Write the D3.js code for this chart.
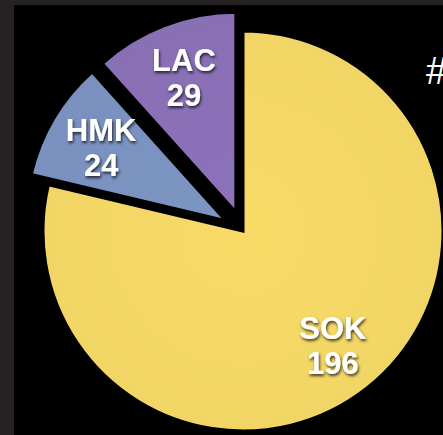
<!DOCTYPE html>
<html>
<head>
<meta charset="utf-8">
<script src="https://cdn.jsdelivr.net/npm/d3@7"></script>
<style>
  html, body { margin: 0; padding: 0; background: #262223; }
  svg { display: block; }
</style>
</head>
<body>
<svg id="chart"></svg>
<script>
// data
const labels = ["SOK", "HMK", "LAC"];
const values = [196, 24, 29];
const exploded = [false, true, true];
const colors = ["#f5d866", "#7b93c1", "#8a71b7"];

const width = 443, height = 435;
const cx = 243, cy = 231;
const radius = 200;
const explode = 20;
const labelR = 145;

const svg = d3.select("#chart")
    .attr("width", width)
    .attr("height", height);

// black panel inside the grey frame
svg.append("rect")
    .attr("x", 14).attr("y", 5)
    .attr("width", width - 14).attr("height", height - 5)
    .attr("fill", "#000");

const defs = svg.append("defs");
const shadow = defs.append("filter").attr("id", "ts")
    .attr("x", "-20%").attr("y", "-40%").attr("width", "140%").attr("height", "180%");
shadow.append("feDropShadow")
    .attr("dx", 1).attr("dy", 2).attr("stdDeviation", 1.6)
    .attr("flood-color", "#000").attr("flood-opacity", 0.75);

// faint paper-like shading
colors.forEach((c, i) => {
    const g = defs.append("radialGradient").attr("id", "g" + i)
        .attr("gradientUnits", "userSpaceOnUse")
        .attr("cx", 0).attr("cy", 0).attr("r", radius);
    g.append("stop").attr("offset", "0%").attr("stop-color", d3.color(c).brighter(0.03));
    g.append("stop").attr("offset", "100%").attr("stop-color", d3.color(c).darker(0.03));
});

const data = labels.map((l, i) => ({ label: l, value: values[i], i: i }));

const pie = d3.pie()
    .value(d => d.value)
    .sort(null)
    .startAngle(0)
    .endAngle(Math.PI * 2);

const arc = d3.arc()
    .innerRadius(0)
    .outerRadius(radius);

const arcs = pie(data);

const slices = svg.selectAll("g.slice")
    .data(arcs)
    .enter()
    .append("g")
    .attr("class", "slice")
    .attr("transform", d => {
        const mid = (d.startAngle + d.endAngle) / 2;
        const off = exploded[d.data.i] ? explode : 0;
        return `translate(${cx + Math.sin(mid) * off},${cy - Math.cos(mid) * off})`;
    });

slices.append("path")
    .attr("d", arc)
    .attr("fill", d => `url(#g${d.data.i})`)
    .attr("stroke", "#000")
    .attr("stroke-width", 3)
    .attr("stroke-linejoin", "miter");

const labelArc = d3.arc().innerRadius(labelR).outerRadius(labelR);

const txt = slices.append("text")
    .attr("transform", d => `translate(${labelArc.centroid(d)})`)
    .attr("text-anchor", "middle")
    .attr("fill", "#fff")
    .attr("font-family", "'Liberation Sans', Arial, sans-serif")
    .attr("font-weight", "bold")
    .attr("font-size", 31)
    .attr("filter", "url(#ts)");

txt.append("tspan").attr("x", 0).attr("y", -6).text(d => d.data.label);
txt.append("tspan").attr("x", 0).attr("y", 29).text(d => d.data.value);

// cut-off heading on the right
svg.append("text")
    .attr("x", 426).attr("y", 84)
    .attr("fill", "#fff")
    .attr("font-family", "'Liberation Sans', Arial, sans-serif")
    .attr("font-size", 38)
    .text("#");
</script>
</body>
</html>
